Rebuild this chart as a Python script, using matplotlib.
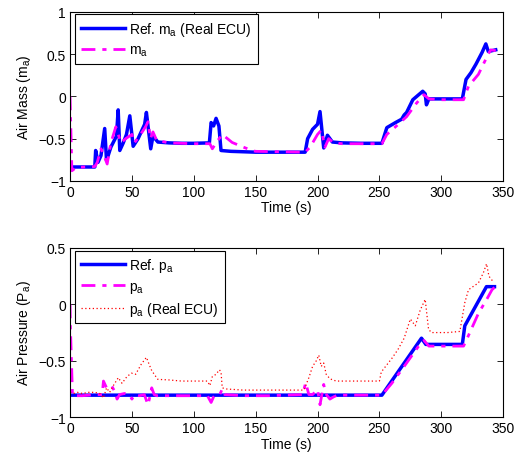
import numpy as np
import matplotlib
matplotlib.use('Agg')
import matplotlib.pyplot as plt

plt.rcParams['font.family'] = ['Liberation Sans', 'DejaVu Sans']
plt.rcParams['font.size'] = 10
plt.rcParams['mathtext.default'] = 'regular'

# Air mass, reference (real ECU)
t_ma_ref = [0, 20, 20.7, 22.6, 25, 28, 29.5, 33, 37.5, 38.9, 40.2, 43, 45.6, 48.3, 51, 55,
            60.3, 61.7, 65.2, 67, 71, 80, 90, 100, 112.6, 114, 116, 118, 120.3, 122, 130,
            150, 170, 190, 192, 196, 200, 202, 205, 208, 212, 220, 235, 252, 256, 263, 268,
            270, 272, 274, 277, 285, 287, 288, 290, 300, 317, 320, 324, 328, 333, 336, 338, 344]
v_ma_ref = [-0.835, -0.835, -0.64, -0.78, -0.7, -0.38, -0.76, -0.6, -0.47, -0.16, -0.64, -0.55,
            -0.45, -0.23, -0.59, -0.5, -0.33, -0.19, -0.62, -0.47, -0.54, -0.55, -0.555, -0.555,
            -0.55, -0.31, -0.35, -0.26, -0.35, -0.64, -0.65, -0.66, -0.66, -0.66, -0.5, -0.39,
            -0.33, -0.18, -0.61, -0.46, -0.54, -0.55, -0.555, -0.555, -0.37, -0.31, -0.27,
            -0.22, -0.19, -0.13, -0.04, 0.06, 0.03, -0.1, -0.03, -0.03, -0.03, 0.2, 0.28,
            0.38, 0.52, 0.62, 0.53, 0.55]

# Air mass, model
t_ma = [0, 1.5, 5, 20, 22, 25, 28, 30, 33, 37, 39, 41, 45, 50, 52, 57, 61, 63, 65, 67, 70, 80,
        100, 113, 115, 118, 123, 131, 140, 147, 150, 190, 194, 200, 203, 206, 209, 213, 220,
        252, 256, 263, 272, 280, 286, 290, 300, 318, 322, 330, 338, 340, 344]
v_ma = [0.0, -0.88, -0.84, -0.83, -0.78, -0.62, -0.72, -0.8, -0.55, -0.36, -0.45, -0.55, -0.5,
        -0.45, -0.55, -0.45, -0.36, -0.3, -0.5, -0.42, -0.52, -0.55, -0.56, -0.56, -0.62,
        -0.55, -0.45, -0.545, -0.6, -0.64, -0.65, -0.66, -0.6, -0.45, -0.4, -0.6, -0.5,
        -0.55, -0.56, -0.56, -0.45, -0.36, -0.24, -0.08, 0.02, -0.03, -0.04, -0.04, 0.12,
        0.26, 0.5, 0.55, 0.54]

# Air pressure, reference
t_pa_ref = [0, 252, 284, 287.5, 317, 319, 336.5, 343]
v_pa_ref = [-0.805, -0.805, -0.3, -0.355, -0.355, -0.19, 0.157, 0.157]

# Air pressure, model
t_pa = [0, 0.3, 2, 10, 20, 26, 27, 29.5, 33.5, 36, 38, 40, 44, 48, 50, 52, 56, 60, 63, 64.5,
        66, 68, 70, 90, 111, 114, 116, 118, 121, 123, 125, 140, 160, 188, 190.4, 193, 196,
        200, 202, 205, 206.5, 210, 213, 216, 252, 260, 270, 283, 286, 290, 318, 321, 330,
        337, 339, 341, 343]
v_pa = [0.0, -0.2, -0.81, -0.81, -0.8, -0.8, -0.68, -0.74, -0.72, -0.77, -0.84, -0.8, -0.79,
        -0.8, -0.84, -0.8, -0.81, -0.8, -0.89, -0.82, -0.74, -0.8, -0.81, -0.81, -0.81, -0.87,
        -0.82, -0.8, -0.8, -0.75, -0.8, -0.81, -0.81, -0.8, -0.695, -0.8, -0.8, -0.755,
        -0.89, -0.71, -0.79, -0.84, -0.82, -0.805, -0.805, -0.7, -0.55, -0.35, -0.32, -0.37,
        -0.37, -0.3, -0.08, 0.05, 0.09, 0.13, 0.15]

# Air pressure, real ECU
t_pa_ecu = [0, 3, 6, 10, 15, 20, 24, 27, 29.5, 32, 35, 39, 42, 46, 49.6, 53, 57.6, 61.7, 63.5,
            65.7, 68, 71, 80, 90, 100, 111, 113, 115, 118, 120.7, 122, 123, 126, 140, 160,
            175, 189, 193, 196, 199, 201, 203, 205, 207, 210, 215, 230, 250, 251.5, 255, 260,
            265, 270, 275, 279, 283, 287, 289.7, 292, 305, 315, 319, 322, 330, 334, 336.6,
            338.5, 342]
v_pa_ecu = [-0.78, -0.79, -0.78, -0.79, -0.78, -0.78, -0.79, -0.83, -0.74, -0.78, -0.72, -0.65,
            -0.7, -0.64, -0.61, -0.62, -0.53, -0.47, -0.52, -0.58, -0.62, -0.665, -0.67, -0.68,
            -0.68, -0.68, -0.72, -0.64, -0.62, -0.58, -0.6, -0.74, -0.75, -0.76, -0.76, -0.76,
            -0.76, -0.65, -0.55, -0.5, -0.45, -0.55, -0.52, -0.62, -0.66, -0.68, -0.68, -0.68,
            -0.6, -0.55, -0.48, -0.4, -0.3, -0.13, -0.19, -0.05, 0.044, -0.22, -0.25, -0.25,
            -0.24, 0.015, 0.13, 0.19, 0.28, 0.36, 0.25, 0.2]

fig = plt.figure(figsize=(5.15, 4.56), dpi=100)
ax1 = fig.add_axes([0.136, 0.601, 0.841, 0.371])
ax2 = fig.add_axes([0.136, 0.083, 0.841, 0.371])

dashdot = (0, (5, 2.5, 1.5, 2.5))

ax1.plot(t_ma_ref, v_ma_ref, color='#0000ff', lw=2.5, label='Ref. m$_a$ (Real ECU)')
ax1.plot(t_ma, v_ma, color='#ff00ff', lw=2.0, ls=dashdot, label='m$_a$')
ax1.set_ylim(-1, 1)
ax1.set_yticks([-1, -0.5, 0, 0.5, 1])
ax1.set_yticklabels(['\u22121', '\u22120.5', '0', '0.5', '1'])
ax1.set_ylabel('Air Mass (m$_a$)')

ax2.plot(t_pa_ref, v_pa_ref, color='#0000ff', lw=2.5, label='Ref. p$_a$')
ax2.plot(t_pa, v_pa, color='#ff00ff', lw=2.0, ls=dashdot, label='p$_a$')
ax2.plot(t_pa_ecu, v_pa_ecu, color='#ff0000', lw=0.9, ls=(0, (1, 2)), label='p$_a$ (Real ECU)')
ax2.set_ylim(-1, 0.5)
ax2.set_yticks([-1, -0.5, 0, 0.5])
ax2.set_yticklabels(['\u22121', '\u22120.5', '0', '0.5'])
ax2.set_ylabel('Air Pressure (P$_a$)')

for ax in (ax1, ax2):
    ax.set_xlim(0, 350)
    ax.set_xticks(np.arange(0, 351, 50))
    ax.set_xlabel('Time (s)', labelpad=1)
    ax.tick_params(direction='in', top=True, right=True, length=4, width=0.6, pad=3)
    for s in ax.spines.values():
        s.set_linewidth(0.8)
    leg = ax.legend(loc='upper left', bbox_to_anchor=(0.012, 0.985), fancybox=False,
                    edgecolor='black', framealpha=1, handlelength=3.2, borderaxespad=0,
                    handletextpad=0.3, labelspacing=0.35, borderpad=0.4)
    leg.get_frame().set_linewidth(0.8)

fig.savefig('out.png', dpi=100)
